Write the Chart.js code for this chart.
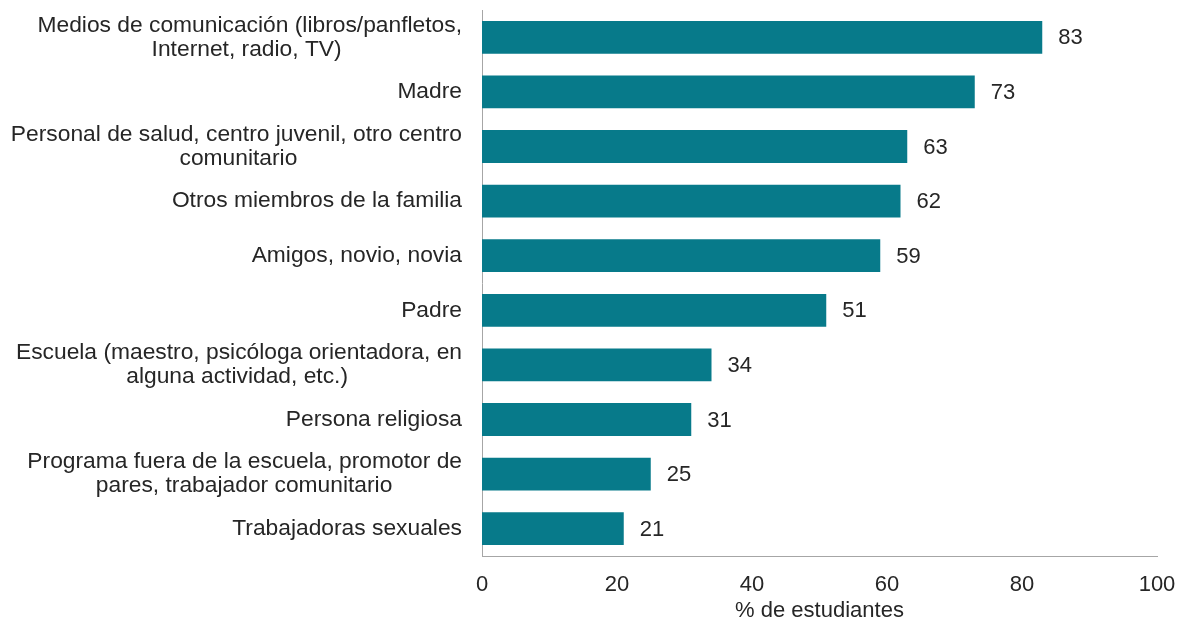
<!DOCTYPE html>
<html>
<head>
<meta charset="utf-8">
<script src="https://cdn.jsdelivr.net/npm/chart.js@4"></script>
<style>
  html, body { margin: 0; padding: 0; background: #fff; }
  #wrap { width: 1180px; height: 624px; }
</style>
</head>
<body>
<div id="wrap"><canvas id="barChart"></canvas></div>
<script>
// Data
const categories = [
    ['Medios de comunicación (libros/panfletos,', 'Internet, radio, TV)'],
    'Madre',
    ['Personal de salud, centro juvenil, otro centro', 'comunitario'],
    'Otros miembros de la familia',
    'Amigos, novio, novia',
    'Padre',
    ['Escuela (maestro, psicóloga orientadora, en', 'alguna actividad, etc.)'],
    'Persona religiosa',
    ['Programa fuera de la escuela, promotor de', 'pares, trabajador comunitario'],
    'Trabajadoras sexuales'
];
const values = [83, 73, 63, 62, 59, 51, 34, 31, 25, 21];
const xTicks = [0, 20, 40, 60, 80, 100];

const FONT = '"Liberation Sans", Arial, sans-serif';
const labelFont = '22.8px ' + FONT;

// center the second line of a wrapped label under the first one
const measureCtx = document.createElement('canvas').getContext('2d');
measureCtx.font = labelFont;
function centerLines(label) {
    if (!Array.isArray(label)) return label;
    const w0 = measureCtx.measureText(label[0]).width;
    const space = measureCtx.measureText(' ').width;
    return label.map(function (line, i) {
        if (i === 0) return line;
        const gap = (w0 - measureCtx.measureText(line).width) / 2;
        return line + ' '.repeat(Math.max(0, Math.round(gap / space)));
    });
}

// value labels at the end of each bar
const valueLabels = {
    id: 'valueLabels',
    afterDatasetsDraw(chart) {
        const ctx = chart.ctx;
        const meta = chart.getDatasetMeta(0);
        ctx.save();
        ctx.font = '22px ' + FONT;
        ctx.fillStyle = '#262626';
        ctx.textAlign = 'left';
        ctx.textBaseline = 'middle';
        meta.data.forEach(function (bar, i) {
            ctx.fillText(values[i], bar.x + 16, bar.y + 1);
        });
        ctx.restore();
    }
};

const ctxBar = document.getElementById('barChart').getContext('2d');
const barChart = new Chart(ctxBar, {
    type: 'bar',
    data: {
        labels: categories,
        datasets: [{
            data: values,
            backgroundColor: '#077a8a',
            borderWidth: 0,
            categoryPercentage: 1,
            barPercentage: 0.6
        }]
    },
    options: {
        indexAxis: 'y',
        responsive: true,
        maintainAspectRatio: false,
        animation: false,
        layout: { padding: { top: 10, right: 23, left: 0, bottom: 0 } },
        plugins: {
            legend: { display: false },
            tooltip: { enabled: false }
        },
        scales: {
            x: {
                min: 0,
                max: 100,
                afterBuildTicks: function (scale) {
                    scale.ticks = xTicks.map(v => ({ value: v }));
                },
                afterFit: function (scale) {
                    scale.height = 68;
                    scale.paddingLeft = 0;
                    scale.paddingRight = 0;
                },
                grid: { display: false },
                border: { display: true, color: '#a6a6a6', width: 1 },
                ticks: {
                    padding: 8,
                    color: '#262626',
                    font: { family: FONT, size: 22 }
                },
                title: {
                    display: true,
                    text: '% de estudiantes',
                    color: '#262626',
                    padding: { top: 0, bottom: 0 },
                    font: { family: FONT, size: 22 }
                }
            },
            y: {
                afterFit: function (scale) {
                    scale.width = 482;
                    scale.paddingTop = 0;
                    scale.paddingBottom = 0;
                },
                grid: { display: false },
                border: { display: true, color: '#a6a6a6', width: 1 },
                ticks: {
                    padding: 12,
                    color: '#262626',
                    autoSkip: false,
                    callback: function (value) {
                        return centerLines(categories[value]);
                    },
                    font: { family: FONT, size: 22.8, lineHeight: 1.05 }
                }
            }
        }
    },
    plugins: [valueLabels]
});
</script>
</body>
</html>
